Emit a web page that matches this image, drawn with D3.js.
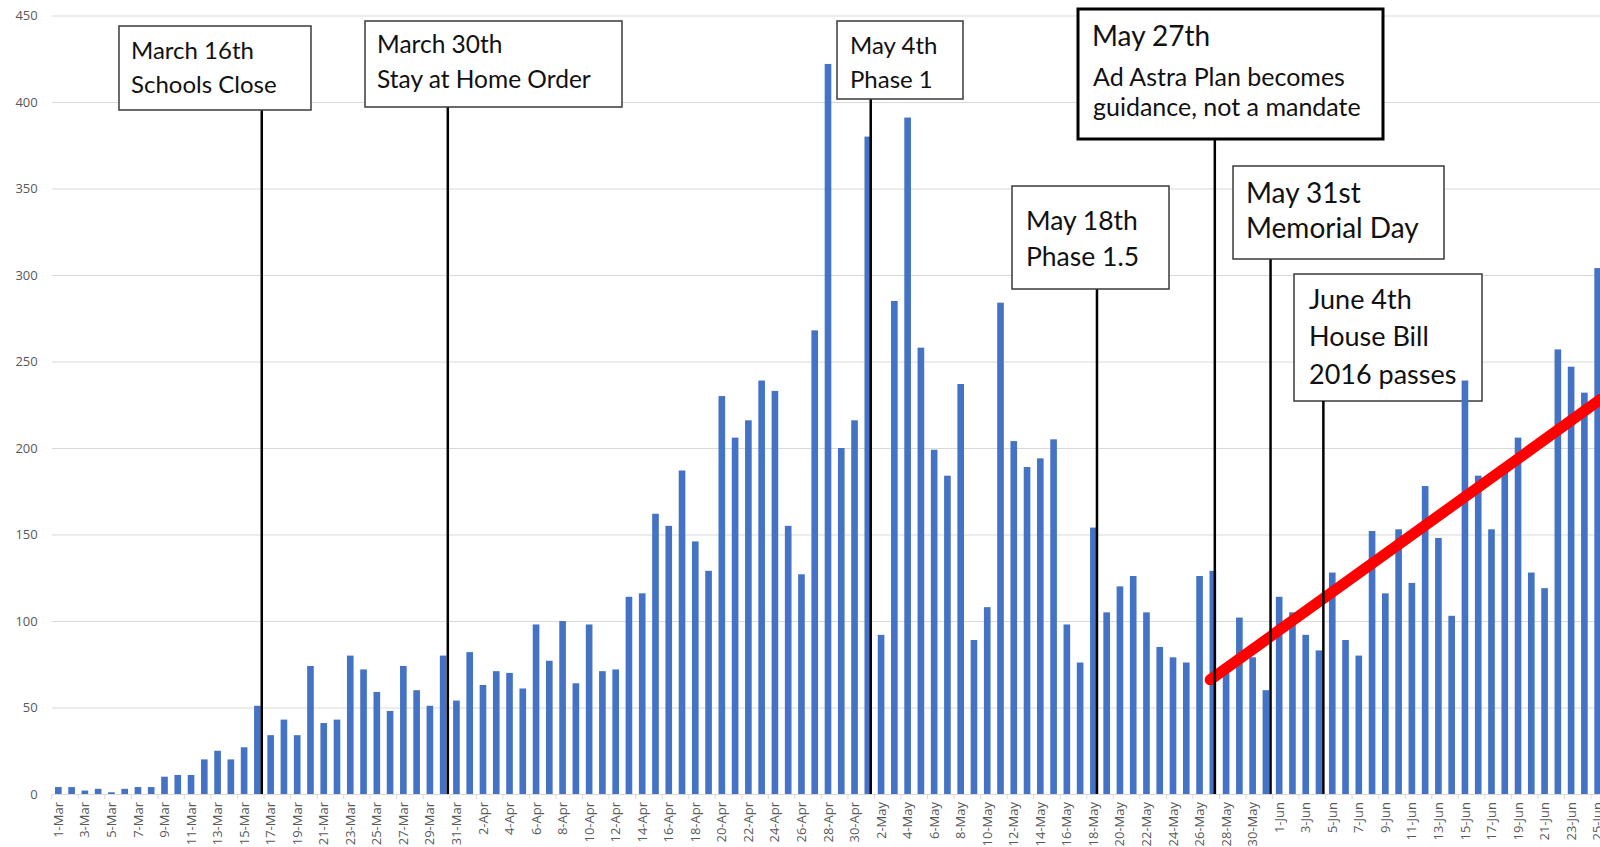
<!DOCTYPE html>
<html>
<head>
<meta charset="utf-8">
<script src="https://cdn.jsdelivr.net/npm/d3@7"></script>
<style>
  body { margin: 0; background: #fff; }
  svg { display: block; }
  .axis text { font-family: "Open Sans", sans-serif; font-size: 13px; fill: #595959; }
  .note text { font-family: Lato, sans-serif; fill: #111; }
</style>
</head>
<body>
<svg id="chart" width="1600" height="847"></svg>
<script>
// categories: one bar per day, Mar 1 to Jun 25
const months = [["Mar", 31], ["Apr", 30], ["May", 31], ["Jun", 25]];
const days = months.flatMap(([m, n]) => d3.range(1, n + 1).map((d) => `${d}-${m}`));

// daily new cases
const marCases = [4, 4, 2, 3, 1, 3, 4, 4, 10, 11, 11, 20, 25, 20, 27, 51, 34, 43, 34, 74,
  41, 43, 80, 72, 59, 48, 74, 60, 51, 80, 54];
const aprCases = [82, 63, 71, 70, 61, 98, 77, 100, 64, 98, 71, 72, 114, 116, 162, 155, 187, 146, 129, 230,
  206, 216, 239, 233, 155, 127, 268, 422, 200, 216];
const mayCases = [380, 92, 285, 391, 258, 199, 184, 237, 89, 108, 284, 204, 189, 194, 205, 98, 76, 154, 105, 120,
  126, 105, 85, 79, 76, 126, 129, 70, 102, 79, 60];
const junCases = [114, 105, 92, 83, 128, 89, 80, 152, 116, 153, 122, 178, 148, 103, 239, 184, 153, 190, 206, 128,
  119, 257, 247, 232, 304];
const cases = [...marCases, ...aprCases, ...mayCases, ...junCases];

const yTicks = [0, 50, 100, 150, 200, 250, 300, 350, 400, 450];

// events marked on the chart
const eventDates = ["16-Mar", "30-Mar", "1-May", "27-May", "18-May", "31-May", "4-Jun"];
const eventLabels = [
  ["March 16th", "Schools Close"],
  ["March 30th", "Stay at Home Order"],
  ["May 4th", "Phase 1"],
  ["May 27th", "Ad Astra Plan becomes", "guidance, not a mandate"],
  ["May 18th", "Phase 1.5"],
  ["May 31st", "Memorial Day"],
  ["June 4th", "House Bill", "2016 passes"],
];

// hand-drawn trend line end points (day, value)
const trendDays = ["27-May", "25-Jun"];
const trendValues = [66, 228];

// box layout for each event (pixels), kept apart from the data
const boxes = [
  { shift: 0.33, x: 119, y: 26, w: 192, h: 84, tx: 131, base: [58.5, 93], fs: [24, 24], sw: 1.5 },
  { shift: 0.35, x: 365, y: 21, w: 257, h: 86, tx: 377, base: [53, 88], fs: [24.5, 24.5], sw: 1.5 },
  { shift: 0.22, x: 837, y: 21, w: 126, h: 78, tx: 850, base: [54, 88], fs: [24, 24], sw: 1.5 },
  { shift: 0.15, x: 1078, y: 9, w: 305, h: 130, tx: 1092, base: [46, 86, 116], fs: [28, 25, 25], sw: 3 },
  { shift: 0.27, x: 1012, y: 186, w: 157, h: 103, tx: 1026, base: [230, 266], fs: [26.5, 26.5], sw: 1.5 },
  { shift: 0.35, x: 1233, y: 166, w: 211, h: 93, tx: 1246, base: [203, 238], fs: [28, 28], sw: 1.5 },
  { shift: 0.33, x: 1294, y: 274, w: 188, h: 127, tx: 1309, base: [309, 346, 384], fs: [27, 27, 27], sw: 1.5, under: true },
];
const trendShift = [-0.2, 0.2];

const W = 1600;
const plotLeft = 51.7;
const step = 13.27;
const svg = d3.select("#chart");

// scales
const x = d3
  .scaleBand()
  .domain(days)
  .range([plotLeft, plotLeft + step * days.length])
  .paddingInner(0.5)
  .paddingOuter(0.25);
const y = d3.scaleLinear().domain([0, 450]).range([794, 15.5]);
const cx = (d, s = 0) => x(d) + x.bandwidth() / 2 + s * x.step();

// y axis with grid lines
const yG = svg
  .append("g")
  .attr("class", "axis")
  .attr("transform", `translate(${plotLeft},0)`)
  .call(d3.axisLeft(y).tickValues(yTicks).tickSize(-(W - plotLeft)).tickPadding(14));
yG.select(".domain").remove();
yG.selectAll(".tick line").attr("stroke", "#d9d9d9").attr("stroke-width", 1);

// x axis labels, every second day, rotated
const xG = svg
  .append("g")
  .attr("class", "axis x")
  .attr("transform", `translate(0,${y(0)})`)
  .call(d3.axisBottom(x).tickValues(days.filter((d, i) => i % 2 === 0)).tickSize(0));
xG.select(".domain").remove();
xG.selectAll(".tick text")
  .attr("transform", "rotate(-90)")
  .attr("x", -8)
  .attr("y", 0)
  .attr("dy", "0.35em")
  .attr("text-anchor", "end");

// small tick marks between label pairs
svg
  .append("g")
  .selectAll("line")
  .data(days.filter((d, i) => i % 2 === 0))
  .join("line")
  .attr("x1", (d) => x(d) - x.step() * 0.25)
  .attr("x2", (d) => x(d) - x.step() * 0.25)
  .attr("y1", y(0))
  .attr("y2", y(0) + 5)
  .attr("stroke", "#d9d9d9");

// draws one event box with its text lines
const drawBox = (g, b, labels) => {
  g.append("rect")
    .attr("x", b.x)
    .attr("y", b.y)
    .attr("width", b.w)
    .attr("height", b.h)
    .attr("fill", "#fff")
    .attr("stroke", b.sw > 2 ? "#000" : "#3a3a3a")
    .attr("stroke-width", b.sw);
  labels.forEach((t, i) => {
    g.append("text")
      .attr("x", b.tx + (i > 0 && b.sw > 2 ? 1 : 0))
      .attr("y", b.base[i])
      .attr("font-size", b.fs[i])
      .text(t);
  });
};

// boxes that sit under the bars
const under = svg.append("g").attr("class", "note");
boxes.forEach((b, i) => {
  if (b.under) drawBox(under, b, eventLabels[i]);
});

// bars
svg
  .append("g")
  .selectAll("rect")
  .data(days)
  .join("rect")
  .attr("x", (d) => x(d))
  .attr("width", x.bandwidth())
  .attr("y", (d, i) => y(cases[i]))
  .attr("height", (d, i) => y(0) - y(cases[i]))
  .attr("fill", "#4472c4");

// red trend line
svg
  .append("line")
  .attr("x1", cx(trendDays[0], trendShift[0]))
  .attr("y1", y(trendValues[0]))
  .attr("x2", cx(trendDays[1], trendShift[1]))
  .attr("y2", y(trendValues[1]))
  .attr("stroke", "#ff0000")
  .attr("stroke-width", 11)
  .attr("stroke-linecap", "round");

// event lines and boxes
const over = svg.append("g").attr("class", "note");
eventDates.forEach((d, i) => {
  const b = boxes[i];
  over
    .append("line")
    .attr("x1", cx(d, b.shift))
    .attr("x2", cx(d, b.shift))
    .attr("y1", b.y + b.h)
    .attr("y2", y(0))
    .attr("stroke", "#000")
    .attr("stroke-width", 2.5);
  if (!b.under) drawBox(over, b, eventLabels[i]);
});
</script>
</body>
</html>
